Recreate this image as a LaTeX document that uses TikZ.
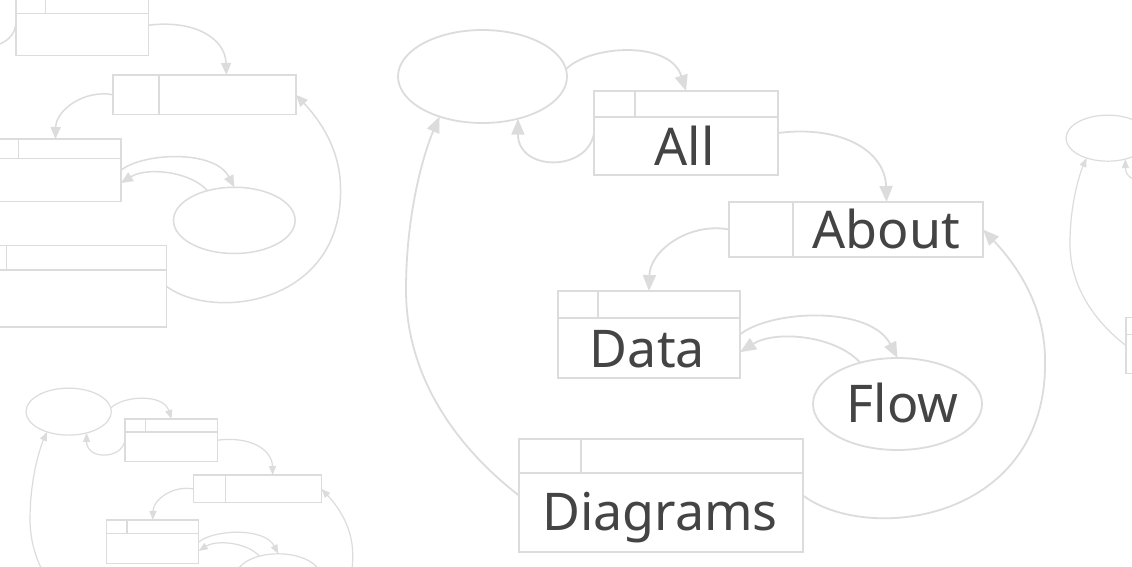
\documentclass[tikz,border=0pt]{standalone}
\usepackage{fontspec}
\setmainfont{Noto Sans}
\usetikzlibrary{arrows.meta,shapes.geometric}
\definecolor{linegray}{HTML}{DCDCDC}
\definecolor{textgray}{HTML}{444444}
\tikzset{
  boxnode/.style={draw=linegray, rectangle, inner sep=0pt, outer sep=0pt, transform shape},
  ellnode/.style={draw=linegray, ellipse, inner sep=0pt, outer sep=0pt, minimum width=169pt, minimum height=93pt, transform shape},
  divider/.style={draw=linegray},
  wordlabel/.style={text=textgray, font=\fontsize{52}{60}\selectfont, inner sep=0pt, anchor=base},
}
% #1 name prefix, #2 transform, #3 line width, #4 arrow tip size
\newcommand\flowdiag[4]{%
\begin{scope}[#2, line width=#3, conn/.style={draw=linegray, -{Triangle[#4]}}]
  \node[ellnode] (#1-e0) at (482.5,76.5) {};
  \node[boxnode, minimum width=184pt, minimum height=84pt] (#1-all) at (686,133) {};
  \node[boxnode, minimum width=254pt, minimum height=55pt] (#1-about) at (856,229.5) {};
  \node[boxnode, minimum width=182pt, minimum height=87pt] (#1-data) at (649,334.5) {};
  \node[ellnode, minimum width=169pt, minimum height=92pt] (#1-flow) at (897.5,404) {};
  \node[boxnode, minimum width=284pt, minimum height=113pt] (#1-diag) at (661,495.5) {};
  \draw[divider] (594,117) -- (778,117) (635,91) -- (635,117);
  \draw[divider] (793,202) -- (793,257);
  \draw[divider] (558,318) -- (740,318) (598,291) -- (598,318);
  \draw[divider] (519,473) -- (803,473) (581,439) -- (581,473);
  \draw[conn] (#1-e0.5) .. controls (590,45) and (670,40) .. (#1-all.north);
  \draw[conn] (#1-all.west) .. controls (588,172) and (518,172) .. (#1-e0.-50);
  \draw[conn] (#1-all.east) .. controls (840,125) and (885,150) .. (#1-about.42);
  \draw[conn] (#1-about.west) .. controls (690,222) and (650,250) .. (#1-data.north);
  \draw[conn] (#1-data.east) .. controls (770,310) and (870,305) .. (#1-flow.north);
  \draw[conn] (#1-flow.132) .. controls (835,335) and (775,330) .. (#1-data.-11);
  \draw[conn] (#1-diag.east) .. controls (870,545) and (1048,520) .. (1045,360)
              .. controls (1045,300) and (1010,258) .. (#1-about.east);
  \draw[conn] (#1-diag.west) .. controls (460,450) and (406,380) .. (406,290)
              .. controls (406,210) and (425,150) .. (#1-e0.-137);
\end{scope}}
\begin{document}
\begin{tikzpicture}[x=1pt, y=-1pt]
  \useasboundingbox (0,0) rectangle (1132,567);
  \clip (0,0) rectangle (1132,567);
  \fill[white] (0,0) rectangle (1132,567);
  % faded copies
  \flowdiag{l}{shift={(-411.9,-70.5)}, scale=0.72}{1.5pt}{length=12pt,width=10pt}
  \flowdiag{b}{shift={(-175,373)}, scale=0.505}{1.2pt}{length=9pt,width=7pt}
  \flowdiag{r}{shift={(869,100.3)}, scale=0.495}{1.2pt}{length=9pt,width=7pt}
  % main diagram
  \flowdiag{m}{shift={(0,0)}}{1.8pt}{length=16pt,width=13pt}
  \node[wordlabel] (w-all) at (684.5,165) {All};
  \node[wordlabel] (w-about) at (886.5,248) {About};
  \node[wordlabel] (w-data) at (647.5,367) {Data};
  \node[wordlabel] (w-flow) at (902.5,422) {Flow};
  \node[wordlabel] (w-diag) at (660,530) {Diagrams};
\end{tikzpicture}
\end{document}
